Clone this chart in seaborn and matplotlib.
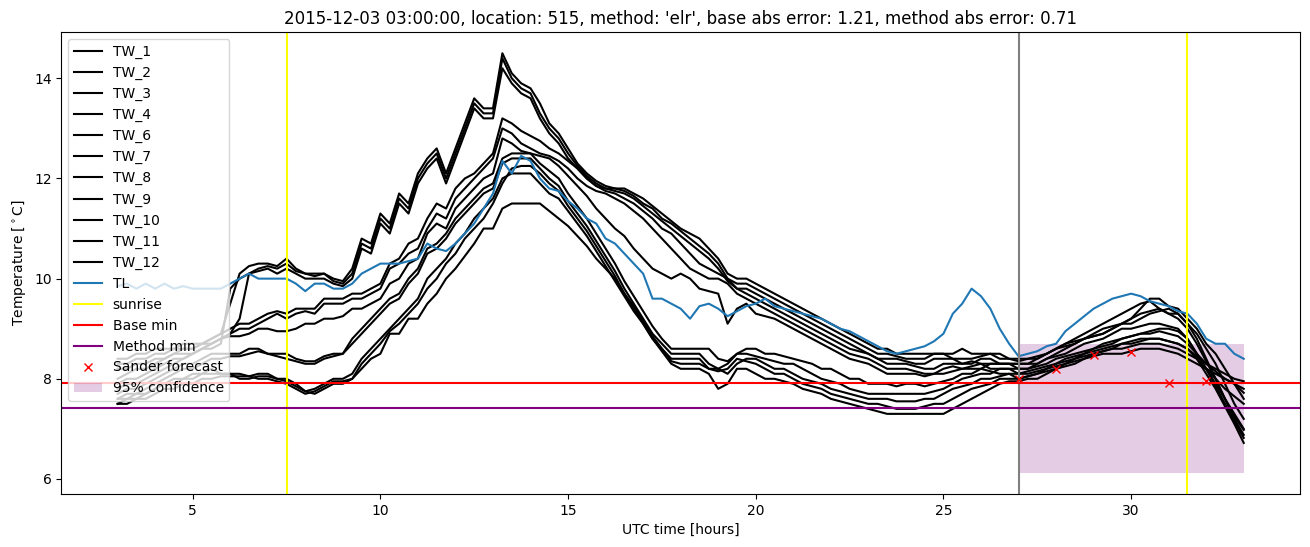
import numpy as np
import matplotlib
matplotlib.use("Agg")
import matplotlib.pyplot as plt
import seaborn as sns

# time grid (hours UTC), 15-minute steps from 3 to 33
hours = np.linspace(3, 33, 121)

TW_1 = [8.4, 8.4, 8.5, 8.5, 8.6, 8.6, 8.6, 8.7, 8.7, 8.7, 8.8, 8.9,
        9.5, 10.1, 10.25, 10.3, 10.3, 10.25, 10.4, 10.2, 10.1, 10.1, 10.1, 10.0,
        9.95, 10.2, 10.8, 10.7, 11.3, 11.1, 11.7, 11.5, 12.1, 12.4, 12.6, 12.1,
        12.6, 13.1, 13.6, 13.4, 13.4, 14.5, 14.1, 13.9, 13.8, 13.5, 13.1, 12.9,
        12.6, 12.3, 12.1, 11.95, 11.85, 11.8, 11.8, 11.7, 11.6, 11.45, 11.3, 11.15,
        11.0, 10.9, 10.8, 10.6, 10.4, 10.1, 10.0, 10.0, 9.9, 9.8, 9.7, 9.6,
        9.5, 9.4, 9.3, 9.2, 9.1, 9.0, 8.9, 8.8, 8.7, 8.6, 8.6, 8.5,
        8.5, 8.5, 8.5, 8.5, 8.5, 8.5, 8.6, 8.5, 8.5, 8.5, 8.5, 8.4,
        8.4, 8.4, 8.45, 8.5, 8.6, 8.7, 8.75, 8.8, 8.9, 9.0, 9.05, 9.1,
        9.2, 9.4, 9.6, 9.6, 9.45, 9.4, 9.2, 9.0, 8.7, 8.5, 8.2, 7.9,
        7.6]
TW_2 = [8.3, 8.3, 8.4, 8.4, 8.5, 8.5, 8.6, 8.6, 8.6, 8.7, 8.7, 8.8,
        8.9, 9.2, 10.1, 10.2, 10.25, 10.2, 10.3, 10.15, 10.1, 10.05, 10.1, 9.95,
        9.9, 10.1, 10.7, 10.6, 11.2, 11.0, 11.6, 11.4, 12.0, 12.3, 12.5, 12.0,
        12.5, 13.0, 13.5, 13.3, 13.3, 14.4, 14.0, 13.8, 13.7, 13.3, 13.0, 12.8,
        12.5, 12.25, 12.05, 11.9, 11.8, 11.8, 11.75, 11.65, 11.5, 11.4, 11.2, 11.1,
        10.95, 10.8, 10.65, 10.5, 10.3, 10.0, 9.9, 9.9, 9.8, 9.7, 9.6, 9.5,
        9.4, 9.3, 9.2, 9.1, 9.0, 8.9, 8.8, 8.7, 8.6, 8.5, 8.5, 8.45,
        8.4, 8.4, 8.4, 8.5, 8.5, 8.4, 8.4, 8.4, 8.45, 8.5, 8.4, 8.4,
        8.35, 8.4, 8.4, 8.5, 8.6, 8.65, 8.7, 8.8, 8.85, 8.9, 9.0, 9.1,
        9.1, 9.2, 9.3, 9.35, 9.4, 9.3, 9.1, 8.9, 8.6, 8.3, 7.9, 7.5,
        7.2]
TW_3 = [8.2, 8.2, 8.3, 8.3, 8.4, 8.4, 8.5, 8.5, 8.5, 8.6, 8.6, 8.7,
        9.8, 10.0, 10.1, 10.15, 10.2, 10.1, 10.2, 10.1, 10.0, 10.0, 10.0, 9.9,
        9.85, 10.0, 10.6, 10.5, 11.1, 10.9, 11.5, 11.3, 11.9, 12.2, 12.4, 11.9,
        12.4, 12.9, 13.4, 13.2, 13.2, 14.2, 13.9, 13.7, 13.6, 13.2, 12.9, 12.7,
        12.4, 12.2, 12.0, 11.85, 11.8, 11.75, 11.7, 11.6, 11.45, 11.3, 11.15, 11.0,
        10.85, 10.7, 10.55, 10.4, 10.2, 9.95, 9.8, 9.8, 9.7, 9.6, 9.5, 9.4,
        9.3, 9.2, 9.1, 9.0, 8.9, 8.8, 8.7, 8.6, 8.5, 8.4, 8.4, 8.4,
        8.35, 8.3, 8.3, 8.4, 8.4, 8.4, 8.3, 8.3, 8.4, 8.4, 8.3, 8.3,
        8.3, 8.3, 8.3, 8.4, 8.45, 8.5, 8.6, 8.7, 8.75, 8.8, 8.9, 9.0,
        9.0, 9.05, 9.1, 9.1, 9.05, 9.0, 8.8, 8.5, 8.2, 7.9, 7.6, 7.3,
        7.0]
TW_4 = [8.0, 8.1, 8.2, 8.2, 8.3, 8.4, 8.5, 8.6, 8.6, 8.7, 8.8, 8.9,
        9.0, 9.1, 9.1, 9.2, 9.3, 9.35, 9.3, 9.4, 9.4, 9.4, 9.6, 9.6,
        9.6, 9.7, 9.7, 9.8, 9.9, 10.3, 10.4, 10.7, 10.8, 11.2, 11.5, 11.4,
        11.8, 12.0, 12.1, 12.3, 12.5, 13.2, 13.1, 12.95, 12.85, 12.75, 12.6, 12.5,
        12.35, 12.2, 12.0, 11.85, 11.75, 11.7, 11.6, 11.5, 11.35, 11.2, 11.0, 10.9,
        10.7, 10.5, 10.3, 10.2, 10.1, 10.0, 9.8, 9.7, 9.6, 9.5, 9.4, 9.3,
        9.2, 9.1, 9.0, 8.9, 8.8, 8.7, 8.6, 8.55, 8.5, 8.4, 8.3, 8.3,
        8.3, 8.25, 8.2, 8.2, 8.3, 8.3, 8.3, 8.35, 8.3, 8.3, 8.3, 8.3,
        8.2, 8.2, 8.25, 8.3, 8.4, 8.45, 8.5, 8.55, 8.6, 8.7, 8.75, 8.8,
        8.85, 8.9, 8.9, 8.95, 8.9, 8.85, 8.7, 8.5, 8.3, 8.15, 8.0, 7.9,
        7.8]
TW_6 = [7.9, 8.0, 8.0, 8.1, 8.2, 8.3, 8.4, 8.4, 8.5, 8.6, 8.7, 8.8,
        8.9, 9.0, 9.0, 9.1, 9.2, 9.3, 9.2, 9.3, 9.35, 9.3, 9.5, 9.5,
        9.5, 9.6, 9.6, 9.7, 9.8, 10.2, 10.3, 10.5, 10.6, 11.0, 11.3, 11.2,
        11.6, 11.8, 12.0, 12.2, 12.4, 13.0, 12.9, 12.7, 12.6, 12.5, 12.45, 12.35,
        12.2, 12.0, 11.85, 11.75, 11.7, 11.6, 11.5, 11.35, 11.2, 11.0, 10.8, 10.6,
        10.4, 10.2, 10.1, 10.0, 10.0, 9.9, 9.7, 9.6, 9.5, 9.4, 9.3, 9.2,
        9.1, 9.0, 8.9, 8.8, 8.7, 8.6, 8.5, 8.45, 8.4, 8.3, 8.2, 8.2,
        8.2, 8.15, 8.1, 8.1, 8.2, 8.25, 8.2, 8.25, 8.3, 8.2, 8.2, 8.2,
        8.1, 8.15, 8.2, 8.25, 8.3, 8.35, 8.4, 8.5, 8.55, 8.6, 8.65, 8.7,
        8.7, 8.75, 8.8, 8.8, 8.75, 8.7, 8.6, 8.45, 8.3, 8.2, 8.1, 8.0,
        7.95]
TW_7 = [7.8, 7.9, 7.9, 8.0, 8.1, 8.2, 8.3, 8.4, 8.5, 8.6, 8.7, 8.8,
        8.85, 8.85, 8.9, 9.0, 9.0, 8.95, 8.95, 9.0, 9.1, 9.1, 9.2, 9.2,
        9.25, 9.4, 9.4, 9.5, 9.6, 9.9, 10.0, 10.3, 10.4, 10.9, 11.1, 11.0,
        11.4, 11.6, 11.8, 12.0, 12.1, 12.8, 12.7, 12.55, 12.5, 12.45, 12.4, 12.25,
        12.05, 11.85, 11.65, 11.4, 11.2, 11.0, 10.85, 10.6, 10.4, 10.2, 10.1, 10.0,
        10.1, 10.0, 9.8, 9.75, 9.7, 9.1, 9.4, 9.5, 9.3, 9.25, 9.2, 9.1,
        9.0, 8.9, 8.8, 8.7, 8.6, 8.5, 8.4, 8.35, 8.3, 8.2, 8.1, 8.1,
        8.1, 8.1, 8.05, 8.1, 8.1, 8.15, 8.2, 8.2, 8.2, 8.15, 8.1, 8.1,
        8.0, 8.05, 8.1, 8.2, 8.25, 8.3, 8.4, 8.45, 8.5, 8.55, 8.6, 8.6,
        8.65, 8.7, 8.7, 8.7, 8.65, 8.6, 8.5, 8.4, 8.2, 8.0, 7.8, 7.65,
        7.5]
TW_8 = [7.7, 7.8, 7.8, 7.9, 8.0, 8.1, 8.2, 8.3, 8.3, 8.4, 8.5, 8.5,
        8.5, 8.5, 8.6, 8.6, 8.5, 8.5, 8.5, 8.4, 8.35, 8.35, 8.45, 8.5,
        8.5, 8.8, 9.0, 9.2, 9.4, 9.6, 9.7, 10.0, 10.2, 10.6, 10.7, 10.9,
        11.2, 11.4, 11.6, 11.8, 11.9, 12.4, 12.5, 12.5, 12.5, 12.3, 12.15, 12.0,
        11.7, 11.45, 11.2, 10.9, 10.6, 10.3, 9.95, 9.65, 9.35, 9.05, 8.8, 8.6,
        8.6, 8.6, 8.6, 8.6, 8.4, 8.35, 8.5, 8.6, 8.6, 8.5, 8.5, 8.45,
        8.4, 8.35, 8.3, 8.2, 8.2, 8.1, 8.0, 8.0, 7.9, 7.9, 7.9, 7.85,
        7.9, 7.9, 7.85, 7.9, 7.95, 8.0, 8.1, 8.1, 8.2, 8.3, 8.3, 8.3,
        8.3, 8.3, 8.4, 8.5, 8.6, 8.7, 8.8, 8.9, 9.0, 9.1, 9.2, 9.3,
        9.4, 9.5, 9.55, 9.4, 9.3, 9.3, 9.1, 8.8, 8.4, 8.0, 7.6, 7.2,
        6.88]
TW_9 = [7.6, 7.7, 7.7, 7.8, 7.9, 8.0, 8.1, 8.2, 8.2, 8.3, 8.4, 8.4,
        8.45, 8.45, 8.5, 8.55, 8.5, 8.45, 8.4, 8.35, 8.3, 8.3, 8.4, 8.45,
        8.5, 8.7, 8.9, 9.1, 9.3, 9.5, 9.6, 9.9, 10.1, 10.5, 10.6, 10.8,
        11.1, 11.3, 11.5, 11.7, 11.8, 12.3, 12.4, 12.4, 12.4, 12.2, 12.0, 11.85,
        11.55, 11.3, 11.05, 10.75, 10.45, 10.15, 9.8, 9.5, 9.2, 8.9, 8.7, 8.5,
        8.5, 8.5, 8.5, 8.3, 8.2, 8.3, 8.5, 8.5, 8.45, 8.4, 8.35, 8.3,
        8.3, 8.2, 8.1, 8.0, 7.95, 7.9, 7.8, 7.75, 7.7, 7.7, 7.7, 7.7,
        7.7, 7.7, 7.7, 7.75, 7.8, 7.9, 8.0, 8.05, 8.1, 8.1, 8.2, 8.2,
        8.2, 8.2, 8.3, 8.4, 8.5, 8.6, 8.7, 8.8, 8.85, 8.9, 9.0, 9.1,
        9.2, 9.3, 9.35, 9.4, 9.3, 9.2, 9.0, 8.7, 8.35, 8.0, 7.6, 7.25,
        6.98]
TW_10 = [7.5, 7.6, 7.6, 7.7, 7.8, 7.9, 8.0, 8.0, 8.1, 8.1, 8.2, 8.1,
         8.1, 8.1, 8.05, 8.1, 8.1, 8.0, 8.0, 7.9, 7.75, 7.8, 7.9, 8.0,
         8.0, 8.1, 8.4, 8.6, 8.8, 9.0, 9.2, 9.4, 9.6, 10.0, 10.2, 10.4,
         10.7, 10.9, 11.2, 11.4, 11.6, 12.0, 12.1, 12.1, 12.1, 11.9, 11.7, 11.6,
         11.35, 11.1, 10.85, 10.55, 10.25, 9.95, 9.65, 9.35, 9.1, 8.8, 8.6, 8.4,
         8.4, 8.4, 8.4, 8.2, 8.2, 8.1, 8.3, 8.4, 8.4, 8.3, 8.2, 8.2,
         8.1, 8.0, 7.95, 7.9, 7.8, 7.75, 7.7, 7.65, 7.6, 7.6, 7.6, 7.55,
         7.55, 7.55, 7.6, 7.6, 7.7, 7.8, 7.85, 7.9, 8.0, 8.0, 8.05, 8.1,
         8.1, 8.1, 8.15, 8.2, 8.3, 8.4, 8.45, 8.5, 8.6, 8.65, 8.7, 8.8,
         8.85, 8.9, 8.95, 9.0, 9.0, 8.95, 8.8, 8.5, 8.2, 7.85, 7.5, 7.15,
         6.82]
TW_11 = [7.5, 7.5, 7.6, 7.6, 7.7, 7.8, 7.8, 7.9, 7.9, 8.0, 8.0, 8.05,
         8.05, 8.05, 8.05, 8.0, 8.0, 7.95, 7.9, 7.8, 7.7, 7.75, 7.85, 7.95,
         7.95, 8.0, 8.2, 8.4, 8.5, 8.9, 8.9, 9.2, 9.2, 9.5, 9.7, 10.0,
         10.2, 10.45, 10.7, 11.0, 11.0, 11.4, 11.5, 11.5, 11.5, 11.5, 11.35, 11.2,
         11.05, 10.85, 10.65, 10.4, 10.2, 10.0, 9.7, 9.4, 9.1, 8.8, 8.55, 8.3,
         8.2, 8.2, 8.2, 8.1, 7.8, 7.9, 8.2, 8.2, 8.1, 8.0, 8.0, 7.95,
         7.9, 7.8, 7.75, 7.7, 7.6, 7.55, 7.5, 7.45, 7.4, 7.35, 7.3, 7.3,
         7.3, 7.3, 7.3, 7.3, 7.3, 7.4, 7.5, 7.6, 7.7, 7.8, 7.9, 7.95,
         7.95, 8.0, 8.0, 8.1, 8.2, 8.25, 8.3, 8.4, 8.45, 8.5, 8.5, 8.5,
         8.55, 8.6, 8.6, 8.6, 8.55, 8.5, 8.4, 8.3, 8.2, 8.1, 8.0, 7.9,
         7.72]
TW_12 = [7.6, 7.6, 7.7, 7.7, 7.8, 7.9, 7.9, 8.0, 8.0, 8.1, 8.1, 8.1,
         8.1, 8.0, 8.0, 8.05, 8.05, 8.0, 7.95, 7.85, 7.75, 7.7, 7.8, 7.9,
         7.9, 8.0, 8.3, 8.5, 8.7, 8.95, 9.1, 9.3, 9.5, 9.8, 10.0, 10.3,
         10.5, 10.8, 11.0, 11.2, 11.5, 11.9, 12.2, 12.25, 12.25, 12.1, 11.9, 11.75,
         11.45, 11.2, 10.95, 10.65, 10.35, 10.05, 9.7, 9.45, 9.15, 8.85, 8.6, 8.35,
         8.3, 8.3, 8.3, 8.2, 8.15, 8.2, 8.4, 8.35, 8.3, 8.2, 8.1, 8.1,
         8.0, 7.9, 7.85, 7.8, 7.7, 7.65, 7.6, 7.55, 7.5, 7.5, 7.45, 7.4,
         7.4, 7.4, 7.45, 7.5, 7.5, 7.6, 7.7, 7.8, 7.85, 7.9, 8.0, 8.0,
         8.0, 8.05, 8.1, 8.15, 8.2, 8.3, 8.35, 8.4, 8.5, 8.55, 8.6, 8.7,
         8.75, 8.8, 8.8, 8.8, 8.75, 8.7, 8.6, 8.4, 8.1, 7.8, 7.45, 7.1,
         6.72]
TL = [9.85, 9.9, 9.8, 9.9, 9.8, 9.9, 9.8, 9.85, 9.8, 9.8, 9.8, 9.8,
      9.9, 10.0, 10.1, 10.0, 10.0, 10.0, 10.0, 9.9, 9.75, 9.9, 9.9, 9.8,
      9.8, 9.9, 10.1, 10.2, 10.3, 10.3, 10.3, 10.35, 10.4, 10.7, 10.6, 10.55,
      10.7, 10.9, 11.1, 11.4, 11.7, 12.35, 12.1, 12.45, 12.35, 12.0, 11.8, 11.75,
      11.55, 11.4, 11.2, 11.1, 10.8, 10.7, 10.5, 10.3, 10.1, 9.6, 9.6, 9.5,
      9.4, 9.2, 9.45, 9.5, 9.4, 9.25, 9.35, 9.45, 9.5, 9.6, 9.45, 9.4,
      9.35, 9.3, 9.25, 9.2, 9.1, 9.0, 8.95, 8.85, 8.75, 8.65, 8.55, 8.5,
      8.55, 8.6, 8.65, 8.75, 8.9, 9.3, 9.5, 9.8, 9.65, 9.4, 9.0, 8.7,
      8.45, 8.5, 8.55, 8.65, 8.7, 8.95, 9.1, 9.25, 9.4, 9.5, 9.6, 9.65,
      9.7, 9.65, 9.55, 9.5, 9.45, 9.35, 9.3, 9.1, 8.8, 8.7, 8.7, 8.5,
      8.4]

tw_names = ["TW_1", "TW_2", "TW_3", "TW_4", "TW_6", "TW_7", "TW_8",
            "TW_9", "TW_10", "TW_11", "TW_12"]
tw_series = [TW_1, TW_2, TW_3, TW_4, TW_6, TW_7, TW_8, TW_9, TW_10, TW_11, TW_12]

sunrise_times = [7.5, 31.5]
forecast_start = 27.0
base_min = 7.92
method_min = 7.42
forecast_hours = [27, 28, 29, 30, 31, 32]
forecast_values = [7.99, 8.19, 8.47, 8.53, 7.91, 7.96]
conf_hours = [27, 33]
conf_low = 6.12
conf_high = 8.69

title = ("2015-12-03 03:00:00, location: 515, method: 'elr', "
         "base abs error: 1.21, method abs error: 0.71")

fig, ax = plt.subplots(figsize=(13.1, 5.47), dpi=100)
fig.subplots_adjust(left=0.0468, right=0.9924, top=0.941, bottom=0.097)

for name, vals in zip(tw_names, tw_series):
    sns.lineplot(x=hours, y=vals, ax=ax, color="black", label=name,
                 linewidth=1.5, legend=False)
sns.lineplot(x=hours, y=TL, ax=ax, color="#1f77b4", label="TL",
             linewidth=1.5, legend=False)

ax.axvline(sunrise_times[0], color="yellow", label="sunrise")
ax.axvline(sunrise_times[1], color="yellow")
ax.axvline(forecast_start, color="gray")
ax.axhline(base_min, color="red", label="Base min")
ax.axhline(method_min, color="purple", label="Method min")
ax.plot(forecast_hours, forecast_values, "x", color="red",
        label="Sander forecast")
ax.fill_between(conf_hours, [conf_low, conf_low], [conf_high, conf_high],
                color="purple", alpha=0.2, linewidth=0, label="95% confidence")

ax.set_title(title)
ax.set_xlabel("UTC time [hours]")
ax.set_ylabel(r"Temperature [$^\circ$C]")
ax.set_xticks([5, 10, 15, 20, 25, 30])
ax.set_yticks([6, 8, 10, 12, 14])
ax.legend(loc="upper left")

fig.savefig("out.png", dpi=100)
